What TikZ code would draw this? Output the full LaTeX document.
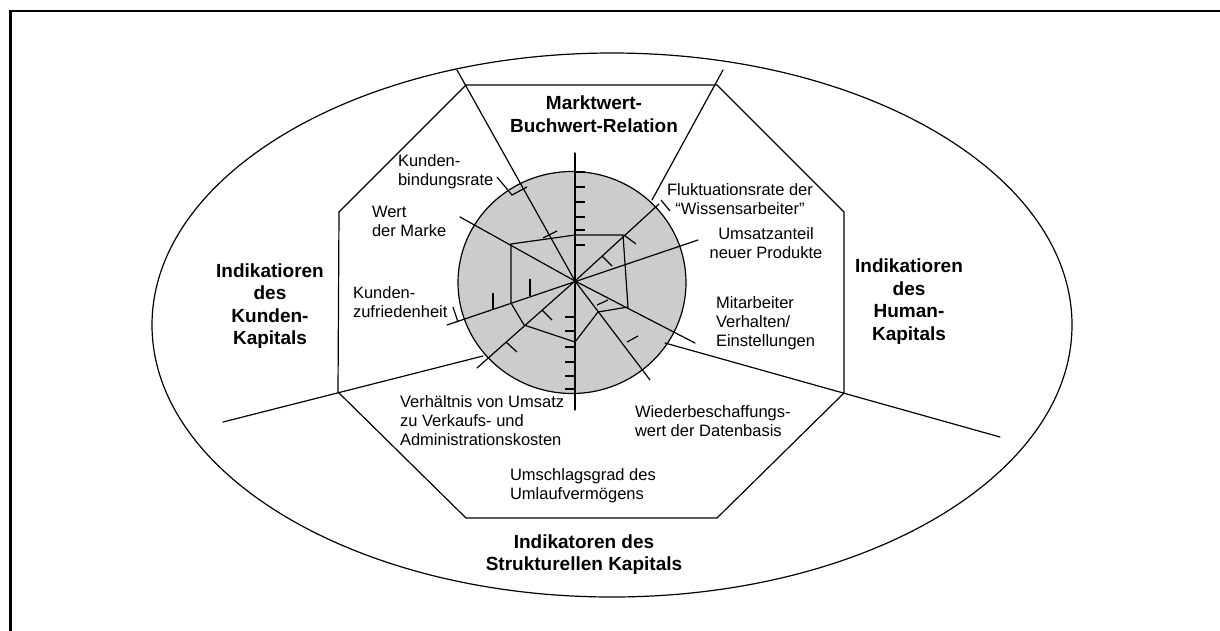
\documentclass[tikz,border=0pt]{standalone}
\usepackage{fontspec}
\setmainfont{Liberation Sans}
\definecolor{diskgray}{RGB}{204,204,204}
\begin{document}
\begin{tikzpicture}[x=1pt,y=-1pt,
  ln/.style={line width=1.2pt, line cap=round, line join=miter},
  tk/.style={line width=1.2pt},
  lbl/.style={inner sep=0pt, outer sep=0pt, align=left, font=\fontsize{16.5}{19}\selectfont},
  lblc/.style={lbl, align=center},
  ttl/.style={inner sep=0pt, outer sep=0pt, align=center, font=\fontsize{19}{22.5}\selectfont\bfseries},
]
\useasboundingbox (0,0) rectangle (1220,630);
\fill[white] (0,0) rectangle (1220,630);

% page frame
\draw[line width=2.5pt] (10.5,645) -- (10.5,11) -- (1235,11);

% outer ellipse
\draw[ln] (612,325) ellipse [x radius=460pt, y radius=272pt];

% octagon corners
\coordinate (o1) at (466,85);
\coordinate (o2) at (717,85);
\coordinate (o3) at (844,212);
\coordinate (o4) at (844,393);
\coordinate (o5) at (717,518);
\coordinate (o6) at (466,518);
\coordinate (o7) at (338,392);
\coordinate (o8) at (339,212);
\draw[ln] (o1) -- (o2) -- (o3) -- (o4) -- (o5) -- (o6) -- (o7) -- (o8) -- cycle;

% radar disk
\coordinate (hub) at (575,281);
\filldraw[ln, fill=diskgray] (572,282.5) ellipse [x radius=114pt, y radius=111pt];

% sector boundaries
\coordinate (bTL) at (457,70);
\coordinate (bTR) at (723,70);
\coordinate (bTRin) at (652,200);
\coordinate (bBL) at (223,422);
\coordinate (bBLin) at (483,356);
\coordinate (bBR) at (1000,437);
\coordinate (bBRin) at (665,343);
\draw[ln] (bTR) -- (bTRin);
\draw[ln] (bBL) -- (bBLin);
\draw[ln] (bBRin) -- (bBR);
\draw[ln] (bTL) -- (hub);

% spokes
\coordinate (sUp) at (575,153);
\coordinate (sDown) at (575,410);
\coordinate (sMarke) at (460,217);
\coordinate (sZufr) at (447,325);
\coordinate (sUmsatz) at (698,240);
\coordinate (sVerh) at (477,368);
\coordinate (sFlukt) at (659,204);
\coordinate (sWieder) at (650,380);
\coordinate (sMitarb) at (695,343);
\draw[ln] (sUp) -- (sDown);
\draw[ln] (sZufr) -- (sUmsatz);
\draw[ln] (hub) -- (sMarke);
\draw[ln] (hub) -- (sVerh);
\draw[ln] (hub) -- (sFlukt);
\draw[ln] (hub) -- (sWieder);
\draw[ln] (hub) -- (sMitarb);

% value polygon
\draw[ln] (575,235) -- (511,244) -- (511,303) -- (524,325) -- (575,342)
  -- (598,312) -- (628,307) -- (623,235) -- cycle;

% scale ticks on the vertical axis
\foreach \yy in {172,187,202,217,230,245} \draw[tk] (575,\yy) -- (585,\yy);
\foreach \yy in {317,331,347,362,376,389} \draw[tk] (565,\yy) -- (575,\yy);

% ticks on the other spokes
\draw[tk] (497,177) -- (512,195) -- (527,187);
\draw[tk] (543,238) -- (557,231);
\draw[tk] (453,307) -- (458,322);
\draw[tk] (493,293) -- (493,310);
\draw[tk] (530,279) -- (530,296);
\draw[tk] (542,310) -- (552,320);
\draw[tk] (506,342) -- (517,352);
\draw[tk] (602,256) -- (612,266);
\draw[tk] (624,235) -- (636,244);
\draw[tk] (661,200) -- (670,211);
\draw[tk] (597,305) -- (608,300);
\draw[tk] (627,342) -- (638,336);

% indicator labels (anchored at the baseline of their last line)
\node[lbl, anchor=base west] (tBindung) at (398,185) {Kunden-\\bindungsrate};
\node[lbl, anchor=base west] (tMarke) at (372,236.5) {Wert\\der Marke};
\node[lbl, anchor=base west] (tZufr) at (353,317.5) {Kunden-\\zufriedenheit};
\node[lbl, anchor=base west] (tVerh) at (400,445) {Verhältnis von Umsatz\\zu Verkaufs- und\\Administrationskosten};
\node[lbl, anchor=base west] (tUmschlag) at (510,499.5) {Umschlagsgrad des\\Umlaufvermögens};
\node[lbl, anchor=base west] (tWieder) at (635,436) {Wiederbeschaffungs-\\wert der Datenbasis};
\node[lbl, anchor=base west] (tMitarb) at (716,346) {Mitarbeiter\\Verhalten/\\Einstellungen};
\node[lblc, anchor=base] (tUmsatz) at (766,258.5) {Umsatzanteil\\neuer Produkte};
\node[lblc, anchor=base] (tFlukt) at (740,214.5) {Fluktuationsrate der\\“Wissensarbeiter”};

% sector titles
\node[ttl, anchor=base] (hMarkt) at (594,132) {Marktwert-\\Buchwert-Relation};
\node[ttl, anchor=base] (hKunde) at (270,344.5) {Indikatioren\\des\\Kunden-\\Kapitals};
\node[ttl, anchor=base] (hHuman) at (909,340) {Indikatioren\\des\\Human-\\Kapitals};
\node[ttl, anchor=base] (hStruk) at (584,570.5) {Indikatoren des\\Strukturellen Kapitals};
\end{tikzpicture}
\end{document}
